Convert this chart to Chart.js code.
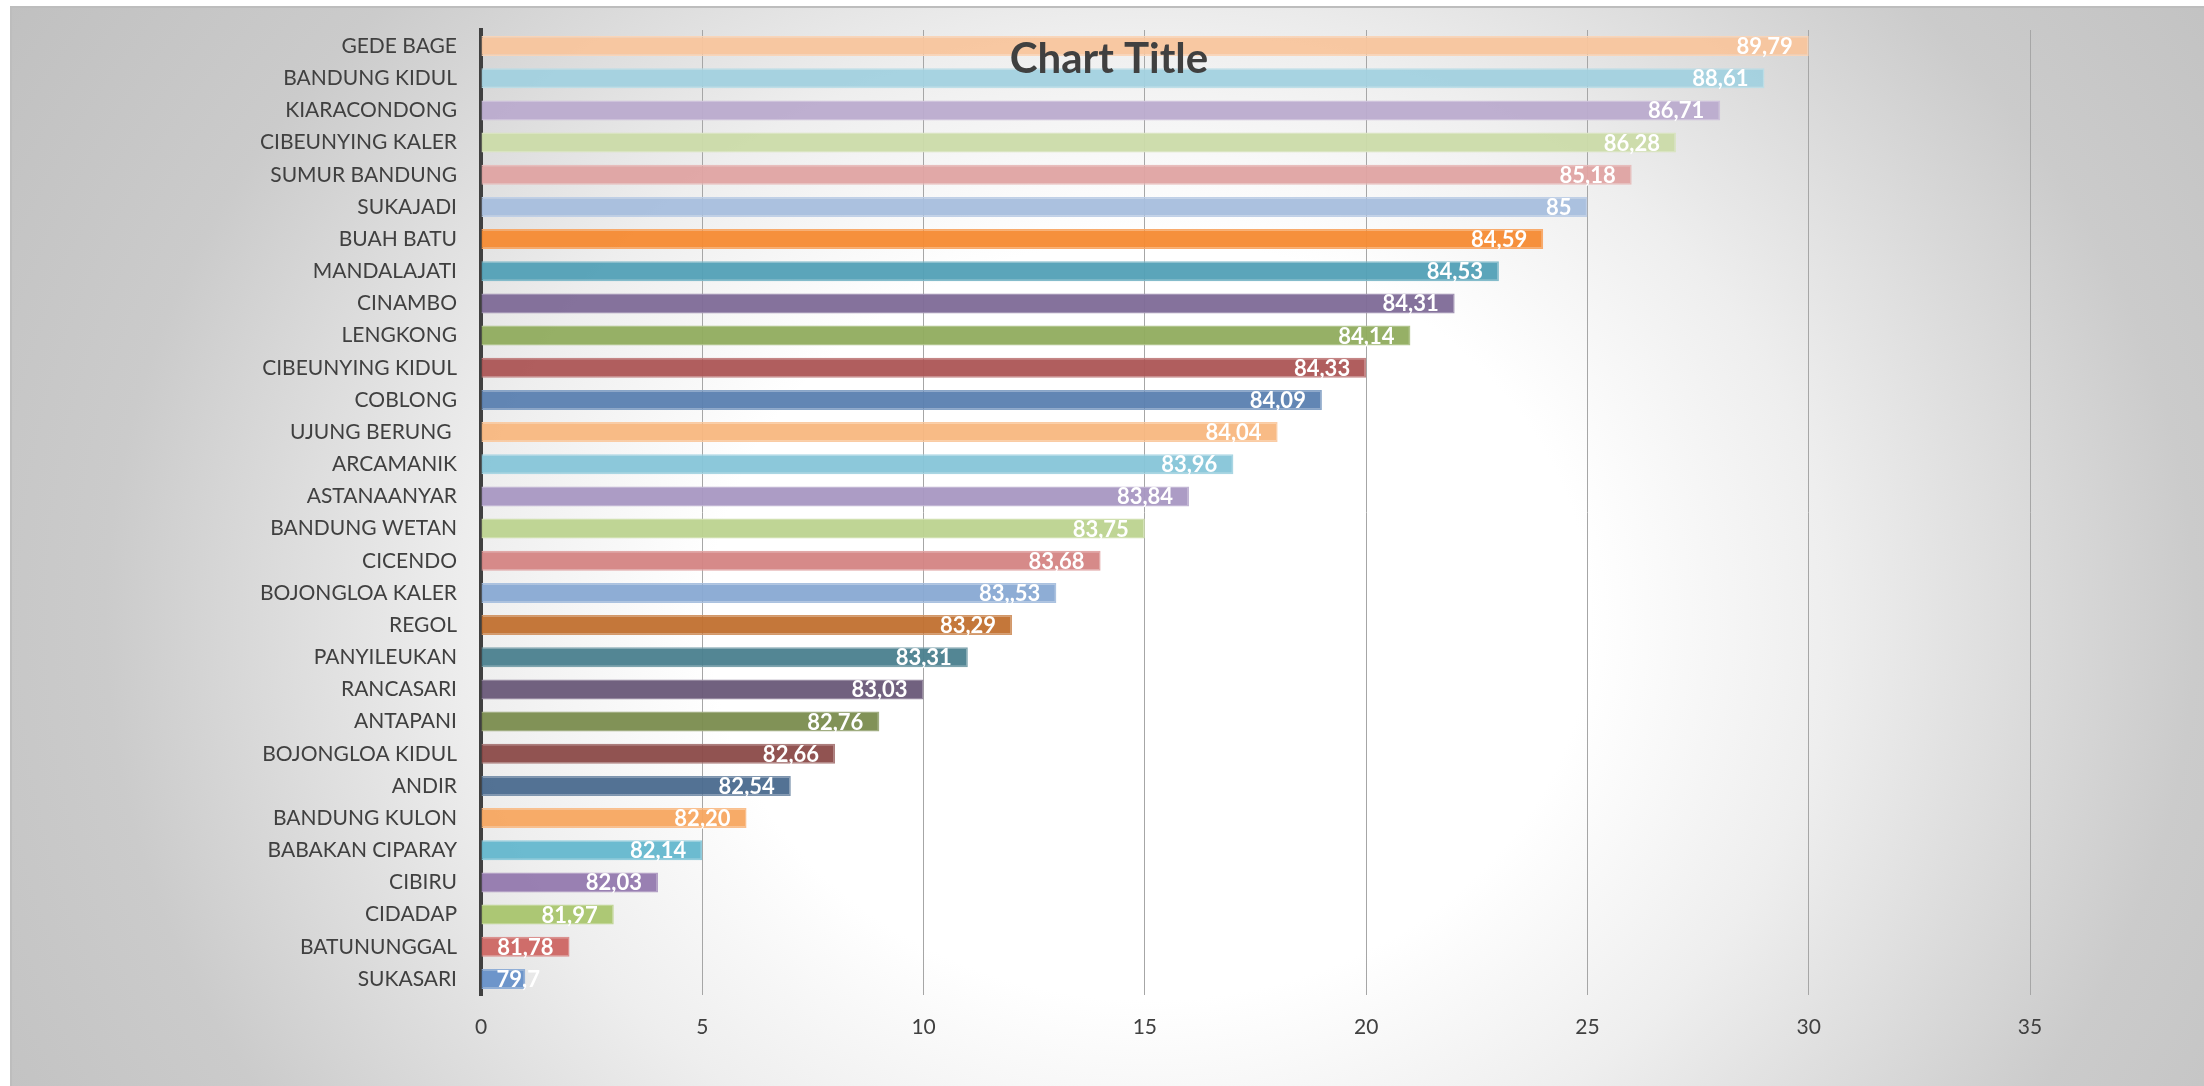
<!DOCTYPE html>
<html>
<head>
<meta charset="utf-8">
<script src="https://cdn.jsdelivr.net/npm/chart.js@4.4.1/dist/chart.umd.min.js"></script>
<style>
  html, body { margin: 0; padding: 0; background: #ffffff; }
  #wrap { width: 2204px; height: 1086px; position: relative; }
</style>
</head>
<body>
<div id="wrap"><canvas id="c" width="2204" height="1086"></canvas></div>
<script>
// ---- data (top to bottom as shown) ----
const districts = [
  'GEDE BAGE', 'BANDUNG KIDUL', 'KIARACONDONG', 'CIBEUNYING KALER', 'SUMUR BANDUNG',
  'SUKAJADI', 'BUAH BATU', 'MANDALAJATI', 'CINAMBO', 'LENGKONG',
  'CIBEUNYING KIDUL', 'COBLONG', 'UJUNG BERUNG ', 'ARCAMANIK', 'ASTANAANYAR',
  'BANDUNG WETAN', 'CICENDO', 'BOJONGLOA KALER', 'REGOL', 'PANYILEUKAN',
  'RANCASARI', 'ANTAPANI', 'BOJONGLOA KIDUL', 'ANDIR', 'BANDUNG KULON',
  'BABAKAN CIPARAY', 'CIBIRU', 'CIDADAP', 'BATUNUNGGAL', 'SUKASARI'
];
const barValues = [
  30, 29, 28, 27, 26,
  25, 24, 23, 22, 21,
  20, 19, 18, 17, 16,
  15, 14, 13, 12, 11,
  10, 9, 8, 7, 6,
  5, 4, 3, 2, 1
];
const valueLabels = [
  '89,79', '88,61', '86,71', '86,28', '85,18',
  '85', '84,59', '84,53', '84,31', '84,14',
  '84,33', '84,09', '84,04', '83,96', '83,84',
  '83,75', '83,68', '83,,53', '83,29', '83,31',
  '83,03', '82,76', '82,66', '82,54', '82,20',
  '82,14', '82,03', '81,97', '81,78', '79,7'
];
const xTickMin = 0, xTickMax = 35, xTickStep = 5;
const chartTitle = 'Chart Title';

// ---- styles ----
const barColors = [
  '#F8C59D', '#A2D1DF', '#BBABCE', '#CBDBA9', '#DFA3A2',
  '#A7BEDD', '#F58A31', '#52A0B6', '#7E6A97', '#90AC5E',
  '#AC5555', '#5A80B0', '#F8B780', '#86C5D8', '#A897C2',
  '#BCD38F', '#D48483', '#88A9D3', '#C1702F', '#4A7F8E',
  '#695878', '#7A8C4E', '#8B4A48', '#4A6A8E', '#F7A660',
  '#64B7CE', '#9479AE', '#A9C56E', '#CD6663', '#6690C8'
];
function hexToRgb(h) {
  const n = parseInt(h.slice(1), 16);
  return [(n >> 16) & 255, (n >> 8) & 255, n & 255];
}
function rgba(h, a) { const c = hexToRgb(h); return `rgba(${c[0]},${c[1]},${c[2]},${a})`; }
function lighten(h, t, a) {
  const c = hexToRgb(h).map(v => Math.round(v + (255 - v) * t));
  return `rgba(${c[0]},${c[1]},${c[2]},${a})`;
}
const FONT = "Lato, 'Open Sans', 'Noto Sans', sans-serif";
const TEXT = '#404040';

const backgroundPlugin = {
  id: 'bg',
  beforeDraw(chart) {
    const ctx = chart.ctx;
    const W = chart.width, H = chart.height;
    ctx.save();
    ctx.fillStyle = '#ffffff';
    ctx.fillRect(0, 0, W, H);
    const x0 = 11, y0 = 7;
    const cx = 1150, cy = 620, rx = 1100, ry = 950;
    ctx.save();
    ctx.beginPath();
    ctx.rect(x0, y0, W - x0, H - y0);
    ctx.clip();
    ctx.translate(cx, cy);
    ctx.scale(1, ry / rx);
    const R = rx * 1.25;
    const g = ctx.createRadialGradient(0, 0, 0, 0, 0, R);
    g.addColorStop(0, '#ffffff');
    g.addColorStop(0.40 / 1.25, '#ffffff');
    g.addColorStop(0.62 / 1.25, '#eeeeee');
    g.addColorStop(0.95 / 1.25, '#cbcbcb');
    g.addColorStop(1, '#bfbfbf');
    ctx.fillStyle = g;
    ctx.fillRect(-cx - 10, -(cy + 10) * rx / ry, W + 20, (H + 20) * rx / ry);
    ctx.restore();
    ctx.strokeStyle = '#bdbdbd';
    ctx.lineWidth = 2;
    ctx.beginPath();
    ctx.moveTo(x0, H);
    ctx.lineTo(x0, y0);
    ctx.lineTo(W, y0);
    ctx.stroke();
    ctx.restore();
  }
};

const labelPlugin = {
  id: 'valueLabels',
  afterDatasetsDraw(chart) {
    const ctx = chart.ctx;
    const meta = chart.getDatasetMeta(0);
    ctx.save();
    ctx.font = `bold 22px ${FONT}`;
    ctx.fillStyle = '#ffffff';
    ctx.textBaseline = 'alphabetic';
    meta.data.forEach((bar, i) => {
      const txt = valueLabels[i];
      const w = ctx.measureText(txt).width;
      const base = bar.base;
      let xr = bar.x - 16;
      ctx.textAlign = 'right';
      if (xr - w < base + 15) {
        ctx.textAlign = 'left';
        xr = base + 15;
      }
      ctx.fillText(txt, xr, bar.y + 8);
    });
    ctx.restore();
  },
  afterDraw(chart) {
    const ctx = chart.ctx;
    ctx.save();
    ctx.font = `bold 42px ${FONT}`;
    ctx.fillStyle = TEXT;
    ctx.textAlign = 'center';
    ctx.textBaseline = 'alphabetic';
    ctx.fillText(chartTitle, 1109, 73);
    ctx.restore();
  }
};

new Chart(document.getElementById('c'), {
  type: 'bar',
  data: {
    labels: districts,
    datasets: [{
      data: barValues,
      backgroundColor: barColors.map(c => rgba(c, 0.95)),
      borderColor: barColors.map(c => lighten(c, 0.25, 0.95)),
      borderWidth: 1.5,
      barPercentage: 0.62,
      categoryPercentage: 1.0
    }]
  },
  options: {
    indexAxis: 'y',
    responsive: false,
    animation: false,
    devicePixelRatio: 1,
    layout: { padding: { top: 30, right: 174, bottom: 0, left: 0 } },
    plugins: {
      legend: { display: false },
      title: { display: false },
      tooltip: { enabled: false }
    },
    scales: {
      x: {
        type: 'linear',
        min: xTickMin,
        max: xTickMax,
        ticks: {
          stepSize: xTickStep,
          color: TEXT,
          font: { family: FONT, size: 21 },
          padding: 20,
          maxRotation: 0
        },
        grid: { color: '#a6a6a6', lineWidth: 1, drawTicks: false },
        border: { display: false },
        afterFit(scale) {
          scale.height = 91;
          scale.paddingLeft = 0; scale.paddingRight = 0;
        }
      },
      y: {
        ticks: {
          color: TEXT,
          font: { family: FONT, size: 21 },
          padding: 24,
          autoSkip: false
        },
        grid: { display: false, drawTicks: false },
        border: { display: true, color: '#404040', width: 4 },
        afterFit(scale) {
          scale.width = 481;
          scale.paddingTop = 0; scale.paddingBottom = 0;
        }
      }
    }
  },
  plugins: [backgroundPlugin, labelPlugin]
});
</script>
</body>
</html>
